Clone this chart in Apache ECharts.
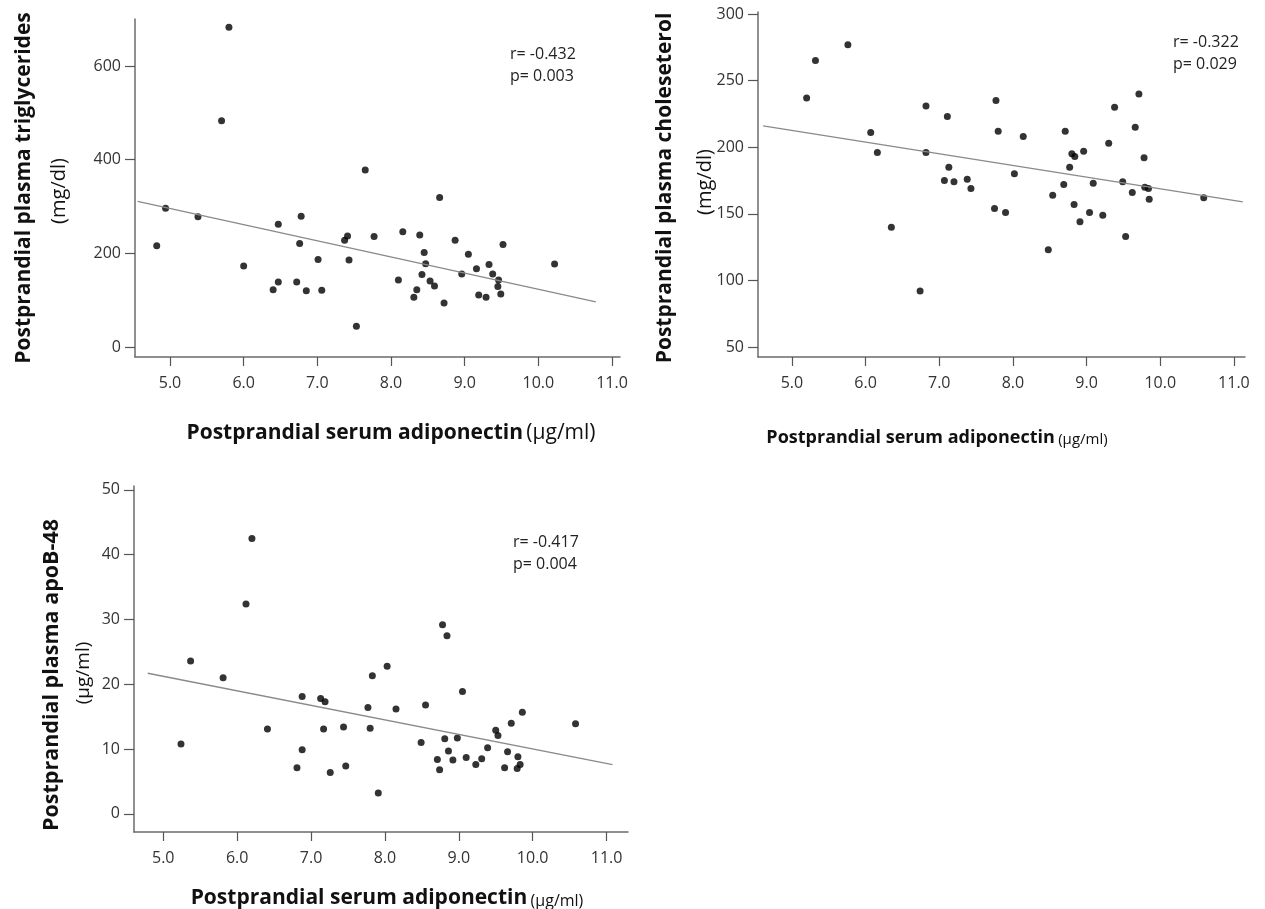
<!DOCTYPE html>
<html>
<head>
<meta charset="utf-8">
<script src="https://cdn.jsdelivr.net/npm/echarts@6/dist/echarts.min.js"></script>
<style>
html,body{margin:0;padding:0;background:#fff}
#chart{width:1265px;height:909px}
</style>
</head>
<body>
<div id="chart"></div>
<script>
// adiponectin vs triglycerides
var adipoTg = [4.82,4.94,5.38,5.70,5.80,6.00,6.40,6.47,6.47,6.72,6.76,6.78,6.85,7.01,7.06,7.37,7.41,7.43,7.53,7.65,7.77,8.10,8.16,8.31,8.35,8.39,8.42,8.45,8.47,8.53,8.59,8.66,8.72,8.87,8.96,9.05,9.16,9.19,9.29,9.33,9.38,9.46,9.45,9.49,9.52,10.22];
var tgVals = [216,296,278,483,683,173,122,262,139,139,221,279,120,187,121,228,237,186,44,378,236,143,246,106,122,239,155,202,178,141,130,319,94,228,156,198,167,111,106,176,156,143,129,113,219,177];
// adiponectin vs cholesterol
var adipoChol = [5.20,5.32,5.76,6.07,6.16,6.35,6.74,6.82,6.82,7.07,7.11,7.13,7.20,7.38,7.43,7.75,7.77,7.80,7.90,8.02,8.14,8.48,8.54,8.69,8.71,8.77,8.80,8.84,8.83,8.91,8.96,9.04,9.09,9.22,9.30,9.38,9.49,9.53,9.62,9.66,9.71,9.78,9.79,9.84,9.85,10.59];
var cholVals = [237,265,277,211,196,140,92,231,196,175,223,185,174,176,169,154,235,212,151,180,208,123,164,172,212,185,195,193,157,144,197,151,173,149,203,230,174,133,166,215,240,192,170,169,161,162];
// adiponectin vs apoB-48
var adipoApo = [5.24,5.37,5.81,6.12,6.20,6.41,6.81,6.88,6.88,7.13,7.19,7.17,7.26,7.44,7.47,7.77,7.80,7.83,7.91,8.03,8.15,8.49,8.55,8.71,8.74,8.78,8.81,8.84,8.86,8.92,8.98,9.05,9.10,9.23,9.31,9.39,9.50,9.53,9.62,9.66,9.71,9.79,9.80,9.83,9.86,10.58];
var apoVals = [10.8,23.6,21.0,32.4,42.5,13.1,7.1,9.9,18.1,17.8,17.3,13.1,6.4,13.4,7.4,16.4,13.2,21.3,3.2,22.8,16.2,11.0,16.8,8.4,6.8,29.2,11.6,27.5,9.7,8.3,11.7,18.9,8.7,7.6,8.5,10.2,12.9,12.1,7.1,9.6,14.0,7.0,8.8,7.6,15.7,13.9];

// fit line end points
var fitTgX = [4.56, 10.78], fitTgY = [311, 96.4];
var fitCholX = [4.61, 11.12], fitCholY = [216, 159];
var fitApoX = [4.79, 11.08], fitApoY = [21.7, 7.6];

// tick labels
var xTicks = [5, 6, 7, 8, 9, 10, 11];
var tgTicks = [0, 200, 400, 600];
var cholTicks = [50, 100, 150, 200, 250, 300];
var apoTicks = [0, 10, 20, 30, 40, 50];

var stats = [
	['r= -0.432', 'p= 0.003'],
	['r= -0.322', 'p= 0.029'],
	['r= -0.417', 'p= 0.004']
];

var FONT = 'Open Sans';

function pairs(xs, ys) {
	var out = [];
	for (var i = 0; i < xs.length; i++) out.push([xs[i], ys[i]]);
	return out;
}

function xAxisCfg(idx, min, max) {
	return {
		type: 'value', gridIndex: idx, min: min, max: max,
		splitLine: {show: false},
		axisLine: {onZero: false, lineStyle: {color: '#6b6b6b', width: 1.5}},
		axisTick: {customValues: xTicks, length: 9, lineStyle: {color: '#555', width: 1.2}},
		axisLabel: {customValues: xTicks, margin: 18, fontSize: 16, color: '#333', fontFamily: FONT,
			formatter: function(v) { return v.toFixed(1); }}
	};
}

function yAxisCfg(idx, min, max, ticks) {
	return {
		type: 'value', gridIndex: idx, min: min, max: max,
		splitLine: {show: false},
		axisLine: {onZero: false, lineStyle: {color: '#6b6b6b', width: 1.5}},
		axisTick: {customValues: ticks, length: 10, lineStyle: {color: '#555', width: 1.2}},
		axisLabel: {customValues: ticks, margin: 14, fontSize: 16, color: '#333', fontFamily: FONT}
	};
}

function scatter(idx, xs, ys) {
	return {
		type: 'scatter', xAxisIndex: idx, yAxisIndex: idx,
		data: pairs(xs, ys), symbolSize: 7,
		itemStyle: {color: '#000'}, silent: true
	};
}

function fitLine(idx, xs, ys) {
	return {
		type: 'line', xAxisIndex: idx, yAxisIndex: idx,
		data: pairs(xs, ys), showSymbol: false, silent: true,
		lineStyle: {color: '#8a8a8a', width: 1.4}
	};
}

function vText(x, y, text, size, bold) {
	return {
		type: 'text', x: x, y: y, rotation: Math.PI / 2,
		style: {text: text, fontSize: size, fontWeight: bold ? 'bold' : 'normal', fontFamily: FONT,
			fill: '#111', align: 'center', verticalAlign: 'middle'}
	};
}

function xTitle(x, y, bSize, nSize) {
	return {
		type: 'text', x: x, y: y,
		style: {
			text: '{b|Postprandial serum adiponectin} {n|(\u00b5g/ml)}',
			align: 'center', verticalAlign: 'middle', fill: '#111',
			rich: {
				b: {fontSize: bSize, fontWeight: 'bold', fontFamily: FONT, fill: '#111', verticalAlign: 'bottom', lineHeight: 28},
				n: {fontSize: nSize, fontFamily: FONT, fill: '#111', verticalAlign: 'bottom', lineHeight: 28}
			}
		}
	};
}

function statText(x, y, i) {
	return {
		type: 'text', x: x, y: y,
		style: {text: stats[i][0] + '\n' + stats[i][1], fontSize: 16, lineHeight: 22, fontFamily: FONT,
			fill: '#222', align: 'left', verticalAlign: 'top'}
	};
}

var chart = echarts.init(document.getElementById('chart'));
chart.setOption({
	animation: false,
	backgroundColor: '#fff',
	grid: [
		{left: 135, top: 19, width: 485, height: 338},
		{left: 758, top: 12, width: 487, height: 345},
		{left: 134, top: 486, width: 494, height: 346}
	],
	xAxis: [
		xAxisCfg(0, 4.525, 11.108),
		xAxisCfg(1, 4.54, 11.15),
		xAxisCfg(2, 4.604, 11.29)
	],
	yAxis: [
		yAxisCfg(0, -21.4, 700.4, tgTicks),
		yAxisCfg(1, 42.5, 301.5, cholTicks),
		yAxisCfg(2, -2.8, 50.6, apoTicks)
	],
	series: [
		fitLine(0, fitTgX, fitTgY),
		scatter(0, adipoTg, tgVals),
		fitLine(1, fitCholX, fitCholY),
		scatter(1, adipoChol, cholVals),
		fitLine(2, fitApoX, fitApoY),
		scatter(2, adipoApo, apoVals)
	],
	graphic: [
		vText(24, 188, 'Postprandial plasma triglycerides', 21, true),
		vText(59, 191, '(mg/dl)', 20, false),
		xTitle(391, 430, 21, 21),
		vText(665, 188, 'Postprandial plasma choleseterol', 21, true),
		vText(705, 182, '(mg/dl)', 20, false),
		xTitle(937, 433, 18, 15),
		vText(52, 675, 'Postprandial plasma apoB-48', 21.5, true),
		vText(84, 673, '(\u00b5g/ml)', 19, false),
		xTitle(387, 895, 21, 16),
		statText(510, 43, 0),
		statText(1173, 31, 1),
		statText(513, 531, 2)
	]
});
</script>
</body>
</html>
